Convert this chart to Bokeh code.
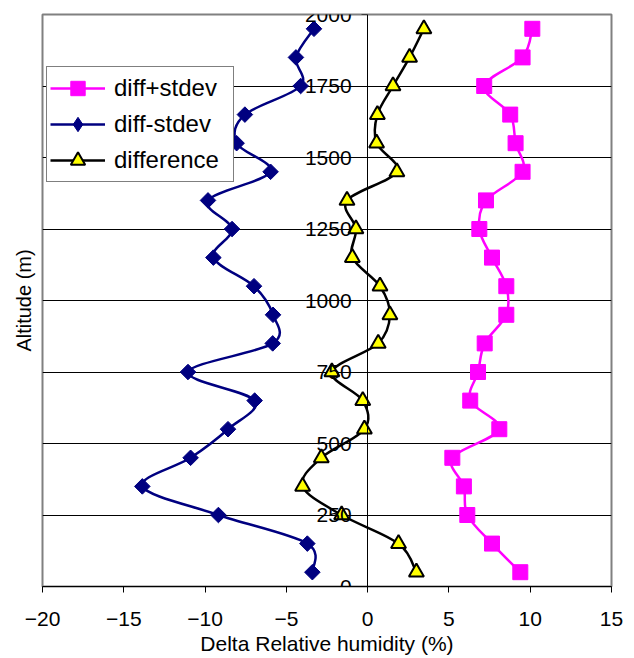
import numpy as np
from bokeh.plotting import figure
from bokeh.models import (Range1d, Legend, LegendItem, FixedTicker, Title,
                          ColumnDataSource)
from bokeh.embed import file_html
from bokeh.resources import INLINE

# Altitude levels (m) and humidity differences (%)
altitude = [50, 150, 250, 350, 450, 550, 650, 750, 850, 950,
            1050, 1150, 1250, 1350, 1450, 1550, 1650, 1750, 1850, 1950]
difference = [3.0, 1.9, -1.6, -4.0, -2.85, -0.2, -0.3, -2.2, 0.65, 1.37,
              0.76, -0.94, -0.72, -1.27, 1.8, 0.55, 0.6, 1.56, 2.58, 3.46]
diff_plus_stdev = [9.39, 7.65, 6.13, 5.92, 5.21, 8.1, 6.31, 6.79, 7.2, 8.53,
                   8.53, 7.65, 6.87, 7.28, 9.53, 9.1, 8.77, 7.17, 9.53, 10.13]
diff_minus_stdev = [-3.4, -3.71, -9.18, -13.86, -10.89, -8.59, -6.95, -11.05, -5.84, -5.82,
                    -6.99, -9.49, -8.34, -9.82, -5.97, -8.06, -7.55, -4.12, -4.41, -3.3]

x_ticks = [-20, -15, -10, -5, 0, 5, 10, 15]
y_ticks = [0, 250, 500, 750, 1000, 1250, 1500, 1750, 2000]

FONT = "Liberation Sans"


def smooth_segments(xs, ys):
    """Cubic Bezier pieces (Catmull-Rom style) through the given points."""
    x = np.asarray(xs, float)
    y = np.asarray(ys, float)
    xp = np.concatenate([[x[0]], x, [x[-1]]])
    yp = np.concatenate([[y[0]], y, [y[-1]]])
    n = len(x)
    return dict(
        x0=x[:-1], y0=y[:-1], x1=x[1:], y1=y[1:],
        cx0=x[:-1] + (xp[2:n + 1] - xp[0:n - 1]) / 6.0,
        cy0=y[:-1] + (yp[2:n + 1] - yp[0:n - 1]) / 6.0,
        cx1=x[1:] - (xp[3:n + 2] - xp[1:n]) / 6.0,
        cy1=y[1:] - (yp[3:n + 2] - yp[1:n]) / 6.0,
    )


p = figure(width=634, height=658,
           x_range=Range1d(-20, 15), y_range=Range1d(0, 2000),
           output_backend="svg", toolbar_location=None,
           min_border_left=42, min_border_right=23,
           min_border_top=14, min_border_bottom=72)

p.background_fill_color = "white"
p.border_fill_color = "white"
p.outline_line_color = "#808080"
p.outline_line_width = 2

p.xgrid.grid_line_color = None
p.ygrid.grid_line_color = "black"
p.ygrid.grid_line_width = 1
p.ygrid.ticker = FixedTicker(ticks=y_ticks)

# x axis along the bottom
xa = p.xaxis[0]
xa.ticker = FixedTicker(ticks=x_ticks)
xa.axis_label = "Delta Relative humidity (%)"
xa.axis_label_text_font = FONT
xa.axis_label_text_font_size = "21px"
xa.axis_label_text_font_style = "normal"
xa.axis_label_text_color = "black"
xa.axis_label_standoff = 3
xa.major_label_text_font = FONT
xa.major_label_text_font_size = "21px"
xa.major_label_text_color = "black"
xa.major_label_standoff = 19
xa.major_tick_in = 0
xa.major_tick_out = 6
xa.minor_tick_in = 0
xa.minor_tick_out = 0
xa.axis_line_color = "black"
xa.major_tick_line_color = "black"

# y axis drawn through x = 0
ya = p.yaxis[0]
ya.fixed_location = 0
ya.ticker = FixedTicker(ticks=y_ticks)
ya.major_label_text_font = FONT
ya.major_label_text_font_size = "21px"
ya.major_label_text_color = "black"
ya.major_label_standoff = 10
ya.major_tick_in = 0
ya.major_tick_out = 6
ya.minor_tick_in = 0
ya.minor_tick_out = 0
ya.axis_line_color = "black"
ya.major_tick_line_color = "black"

p.add_layout(Title(text="Altitude (m)", align="center", text_font=FONT,
                   text_font_size="20px", text_font_style="normal",
                   text_color="black", standoff=16), "left")

# smoothed series lines
plus_line = p.bezier(source=ColumnDataSource(smooth_segments(diff_plus_stdev, altitude)),
                     x0="x0", y0="y0", x1="x1", y1="y1",
                     cx0="cx0", cy0="cy0", cx1="cx1", cy1="cy1",
                     line_color="#FF00FF", line_width=2.5)
minus_line = p.bezier(source=ColumnDataSource(smooth_segments(diff_minus_stdev, altitude)),
                      x0="x0", y0="y0", x1="x1", y1="y1",
                      cx0="cx0", cy0="cy0", cx1="cx1", cy1="cy1",
                      line_color="#000080", line_width=2.5)
diff_line = p.bezier(source=ColumnDataSource(smooth_segments(difference, altitude)),
                     x0="x0", y0="y0", x1="x1", y1="y1",
                     cx0="cx0", cy0="cy0", cx1="cx1", cy1="cy1",
                     line_color="black", line_width=2.5)

# markers
plus_pts = p.scatter(diff_plus_stdev, altitude, marker="square", size=15,
                     fill_color="#FF00FF", line_color="#FF00FF")
minus_pts = p.scatter(diff_minus_stdev, altitude, marker="square", size=11,
                      angle=np.pi / 4, fill_color="#000080", line_color="#000080")
diff_pts = p.scatter(difference, altitude, marker="triangle", size=15,
                     fill_color="#FFFF00", line_color="black", line_width=2)

# legend symbol for the diamond series (legend markers are never rotated)
minus_key = p.scatter(x=[np.nan], y=[np.nan], marker="diamond", size=15,
                      fill_color="#000080", line_color="#000080")

legend = Legend(items=[
    LegendItem(label="diff+stdev", renderers=[plus_line, plus_pts]),
    LegendItem(label="diff-stdev", renderers=[minus_line, minus_key]),
    LegendItem(label="difference", renderers=[diff_line, diff_pts]),
], location=(4, 404))
legend.label_text_font = FONT
legend.label_text_font_size = "24px"
legend.label_text_color = "black"
legend.glyph_width = 55
legend.glyph_height = 36
legend.label_height = 36
legend.label_width = 116
legend.label_standoff = 9
legend.spacing = 0
legend.padding = 3
legend.margin = 0
legend.border_line_color = "black"
legend.border_line_width = 1
legend.background_fill_color = "white"
legend.background_fill_alpha = 1
p.add_layout(legend, "center")

open("out.html", "w").write(file_html(p, INLINE))
